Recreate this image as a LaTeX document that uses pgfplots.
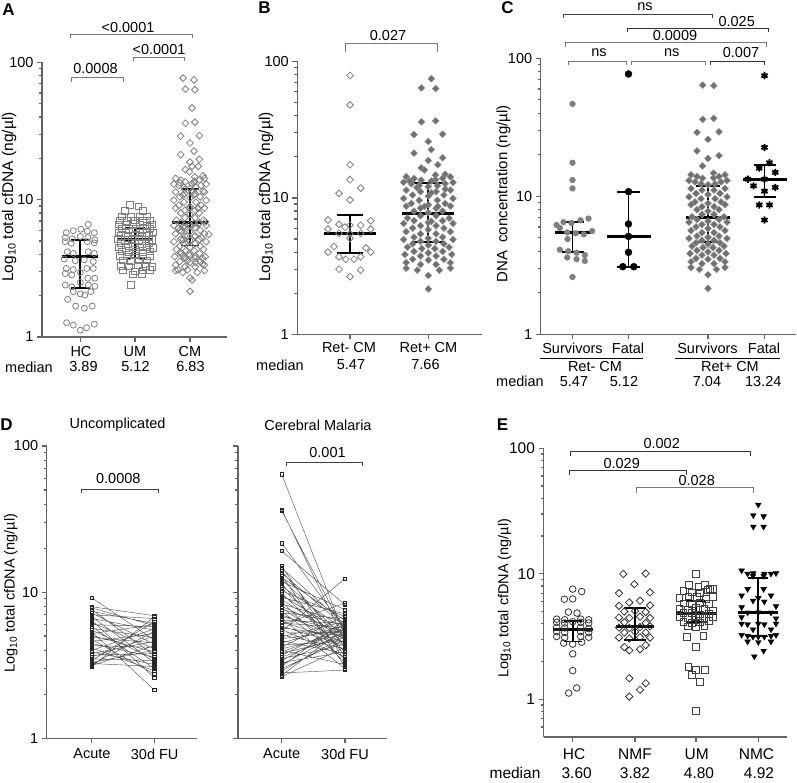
\documentclass[border=0pt]{standalone}
\usepackage{fontspec}
\setmainfont{Liberation Sans}
\usepackage{pgfplots}
\usepackage{pgfplotstable}
\pgfplotsset{compat=1.18}
\definecolor{axgray}{RGB}{100,100,100}
\definecolor{mk}{RGB}{128,128,128}
\definecolor{fillg}{RGB}{112,112,112}
\definecolor{brg}{RGB}{120,120,120}
\newcommand\fs{\fontsize{14.5}{16}\selectfont}
\newcommand\fse{\fontsize{15.5}{17}\selectfont}
\newcommand\Tx[3]{\node[font=\fs,inner sep=0pt] at (#1pt,{782pt-#2pt}) {#3};}
\newcommand\Te[3]{\node[font=\fse,inner sep=0pt] at (#1pt,{782pt-#2pt}) {#3};}
\newcommand\Brk[5][black]{\draw[#1,line width=0.9pt] (#2pt,{782pt-#5pt}) -- (#2pt,{782pt-#4pt}) -- (#3pt,{782pt-#4pt}) -- (#3pt,{782pt-#5pt});}
\newcommand\summ[6]{%
 \addplot[black,line width=1.8pt] table[row sep=\\,x expr=\thisrow{x}+#1,y=y]{x y\\ 0 #3\\ 0 #4\\};
 \addplot[black,line width=1.8pt] table[row sep=\\,x expr=\thisrow{x}+#1,y=y]{x y\\ -#6 #3\\ #6 #3\\};
 \addplot[black,line width=1.8pt] table[row sep=\\,x expr=\thisrow{x}+#1,y=y]{x y\\ -#6 #4\\ #6 #4\\};
 \addplot[black,line width=3pt] table[row sep=\\,x expr=\thisrow{x}+#1,y=y]{x y\\ -#5 #2\\ #5 #2\\};
}
% ---------- data ----------
\pgfplotstableread[row sep=\\]{dx v\\
8 6.62\\ -14 5.75\\ -7 5.95\\ 0.5 6.1\\ 7 5.9\\ 14 5.75\\ -15 5.3\\ -8 5.2\\ 0 5.4\\ 7.5 5.3\\ 14.5 5.1\\
-15 4.95\\ -9 4.81\\ 7 4.95\\ 14 4.85\\ -13 4.18\\ -7 4.06\\ 8 4.18\\ 14 4.06\\ -16 3.7\\ -5 3.6\\ 4 3.65\\ 13 3.55\\
-14 3.16\\ -7 3.1\\ 6.5 3.16\\ 13 3.16\\ -15 2.9\\ -8.5 2.83\\ 0 2.95\\ 7.5 2.68\\ 14.5 2.68\\ -15 2.39\\ -8.5 2.32\\
0 2.5\\ 8 2.39\\ 14.5 2.34\\ -7 2.14\\ 0 2.06\\ 4.5 2.02\\ 10.5 2.14\\ -12.7 1.88\\ -4.7 1.68\\ 4 1.62\\ 12 1.68\\
-13.7 1.27\\ -7 1.22\\ 0 1.12\\ 6.3 1.17\\ 14 1.24\\}\tAHC
\pgfplotstableread[row sep=\\]{dx v\\
-5 9.15\\ 3.3 8.9\\ -10 8.3\\ 8 8.3\\ -13 7.6\\ -4 7.5\\ 5 7.6\\ 12 7.55\\ -15 7.1\\ -8 7.0\\ 0 7.1\\ 8 7.0\\ 15 7.1\\
-16 6.6\\ -9 6.55\\ -2 6.65\\ 5 6.6\\ 12 6.5\\ 17 6.6\\ -13 6.2\\ -6 6.15\\ 1 6.2\\ 8 6.15\\ 15 6.2\\
-16 5.8\\ -9 5.75\\ -2 5.85\\ 5 5.8\\ 12 5.75\\ 18 5.8\\ -14 5.45\\ -7 5.4\\ 0 5.45\\ 7 5.4\\ 14 5.45\\
-17 5.12\\ -10 5.1\\ -3 5.15\\ 4 5.1\\ 11 5.12\\ 17 5.1\\ -14 4.8\\ -7 4.75\\ 0 4.8\\ 7 4.78\\ 14 4.8\\
-16 4.5\\ -9 4.45\\ -2 4.52\\ 5 4.48\\ 12 4.5\\ 18 4.45\\ -13 4.2\\ -6 4.15\\ 1 4.2\\ 8 4.15\\ 15 4.2\\
-15 3.9\\ -8 3.88\\ 0 3.92\\ 8 3.88\\ 15 3.9\\ -12 3.6\\ -4 3.58\\ 4 3.62\\ 12 3.6\\
-14 3.3\\ -6 3.28\\ 3 3.32\\ 11 3.3\\ 17 3.25\\ -12 3.05\\ 0 3.0\\ 8 3.05\\ 15 3.08\\ -2 2.85\\ 7 2.88\\ -4 2.39\\}\tAUM
\pgfplotstableread[row sep=\\]{dx v\\
-5.3 64\\ 5.7 63.3\\ 5.7 36.7\\ -5.3 36.1\\ -11 29.1\\ 11 29.3\\ 0 25.9\\ -11 21.3\\ 11 19.7\\ 0 18.8\\ -5.5 16.6\\ 5.5 14.7\\
-17 14.3\\ -11 13.9\\ 11 13.9\\ 17 14.3\\ -5.5 13.5\\ 5.5 13.6\\ -19 13.0\\ -13 12.7\\ 13 12.7\\ 19 13.0\\ -7 12.3\\ 0 12.1\\ 7 12.3\\
-17 11.4\\ -6 11.1\\ 6 11.1\\ 17 11.4\\ -12 10.5\\ 0 10.3\\ 12 10.5\\ -19 9.9\\ -7 9.6\\ 7 9.6\\ 19 9.9\\
-13 9.1\\ 0 8.9\\ 13 9.1\\ -17 8.7\\ -6 8.4\\ 6 8.4\\ 17 8.7\\ -11 8.0\\ 0 7.8\\ 11 8.0\\ -6 7.4\\ 6 7.4\\ -16 7.1\\ 16 7.1\\
-11 6.8\\ 0 6.6\\ 11 6.8\\ -19 6.5\\ -6 6.25\\ 6 6.25\\ 19 6.5\\ -12 6.0\\ 0 5.85\\ 12 6.0\\
-17 5.65\\ -6 5.45\\ 6 5.45\\ 17 5.65\\ -11 5.15\\ 0 5.05\\ 11 5.15\\ -19 4.95\\ -6 4.8\\ 6 4.8\\ 19 4.95\\
-12 4.6\\ 0 4.5\\ 12 4.6\\ -16 4.35\\ -5 4.25\\ 5 4.25\\ 16 4.35\\ -11 4.05\\ 0 3.95\\ 11 4.05\\
-18 3.85\\ -6 3.75\\ 6 3.75\\ 18 3.85\\ -12 3.55\\ 0 3.5\\ 12 3.55\\ -17 3.35\\ -6 3.25\\ 6 3.25\\ 17 3.35\\
-17 3.05\\ 17 3.05\\ -8.5 2.95\\ 8.5 2.95\\ 0 2.7\\ 0 2.15\\}\tRPS
\pgfplotstableread[row sep=\\]{dx v\\
0 74.8\\ 0 22.6\\ 5 17.5\\ -5.3 16\\ 10.7 14.9\\ -16.7 13.3\\ 0 13.3\\ -11 11.9\\ 10.7 11.6\\ 0 10.9\\ -5.3 8.65\\ 5 8.65\\ 0 6.73\\}\tRPF
\pgfplotstableread[row sep=\\]{dx v\\
0 46.7\\ 0 17.5\\ 0 13.1\\ 0 11.4\\ 16 6.9\\ 8 6.7\\ -9 6.5\\ -1 6.4\\ -16 6.2\\ -12.7 5.9\\ 19.7 5.6\\ -5.3 5.47\\
3.3 5.4\\ 11.3 5.3\\ -5 4.9\\ -12.7 4.1\\ -4.3 4.0\\ 4 3.9\\ 12.3 3.75\\ -5.3 3.6\\ 4 3.5\\ 12.3 3.4\\ 0 2.6\\}\tRMS
\pgfplotstableread[row sep=\\]{dx v\\
0 77\\ 0 10.8\\ 0 6.3\\ 0 5.12\\ 0 3.93\\ -5.7 3.09\\ 5.3 3.09\\}\tRMF
\pgfplotstableread[row sep=\\]{dx v\\
0 78.9\\ 0 48.1\\ 0 17.5\\ 0 13.6\\ 10.7 11.8\\ -11 10.8\\ 0 9.67\\ -22 6.9\\ 20.7 6.8\\ -11 6.4\\ 0 6.3\\ 10.7 6.3\\
-5 6.1\\ -22 5.9\\ 20.7 5.9\\ -11 5.5\\ 0 5.45\\ 10.7 5.5\\ 0 5.05\\ -16 4.4\\ 16 4.3\\ -22 4.0\\ 20.7 4.0\\
-11 3.7\\ 10.7 3.7\\ -4.3 3.55\\ 4 3.55\\ -11 3.0\\ 10.7 2.96\\ 0 2.65\\}\tBRM
\pgfplotstableread[row sep=\\]{dx v\\
0 7.55\\ 9 7.22\\ -8.3 6.27\\ 0 6.3\\ -4.3 4.95\\ 4.3 4.86\\ -16 4.35\\ -8 4.3\\ 8 4.35\\ 16 4.3\\
-16 4.1\\ -8 4.05\\ 0 4.15\\ 8 4.1\\ 16 4.05\\ -16 3.75\\ -8 3.7\\ 8 3.75\\ 16 3.65\\ -16 3.45\\ -8 3.4\\ 8 3.45\\ 16 3.4\\
-16 3.16\\ -8 3.1\\ 8 3.16\\ 16 3.12\\ -9 2.8\\ 0 2.75\\ 9 2.85\\ 0 2.3\\ 0 1.69\\ -4 1.12\\ 4 1.23\\}\tEHC
\pgfplotstableread[row sep=\\]{dx v\\
-11.7 9.95\\ 10.7 10.05\\ -0.7 8.26\\ -16 7.0\\ 15 7.1\\ -5.7 5.9\\ 5 6.1\\ -16 5.55\\ 15 5.6\\ -10.7 5.0\\ 0 5.05\\ 10.7 4.95\\
-16 4.48\\ -5.7 4.45\\ 5 4.55\\ 15 4.45\\ -10.7 4.1\\ 10.7 4.05\\ -16 3.73\\ -5.7 3.7\\ 5 3.75\\ 15 3.8\\
-10.7 3.4\\ 0 3.45\\ 10.7 3.4\\ -16 3.1\\ -5.7 3.05\\ 5 3.12\\ 15 3.1\\ -10.7 2.6\\ 10.7 2.7\\ -5.7 2.45\\ 5 2.5\\
-5.7 1.47\\ 10.7 1.34\\ 5 1.19\\ -5.7 1.05\\}\tENMF
\pgfplotstableread[row sep=\\]{dx v\\
0 9.95\\ -7.3 8.2\\ 2.3 7.9\\ 9 8.1\\ 14 7.6\\ -12.7 7.3\\ -4.3 7.1\\ 4 7.0\\ 12 7.4\\ 17 7.6\\
-16.7 6.4\\ -7.7 6.6\\ 1 6.5\\ 9.5 6.3\\ 17 6.5\\ -12.7 5.8\\ -4.3 5.7\\ 4 5.9\\ 12.7 5.75\\
-16.7 5.3\\ -8.3 5.2\\ 0 5.35\\ 8.3 5.25\\ 16.7 5.1\\ -12.7 4.85\\ -4.3 4.9\\ 4 4.75\\ 12.7 4.8\\
-16.7 4.5\\ -8.3 4.45\\ 0 4.55\\ 8.3 4.45\\ 16.7 4.5\\ -12.7 4.15\\ -4.3 4.05\\ 4 4.1\\ 12.7 4.2\\
-8.3 3.8\\ 0 3.75\\ 8.3 3.85\\ -9 3.15\\ 7.3 3.2\\ 0 2.63\\ -7.7 1.8\\ 0 1.71\\ 9 1.71\\ -4.3 1.56\\ 4 1.38\\ 0 0.81\\}\tEUM
\pgfplotstableread[row sep=\\]{dx v\\
0 35.5\\ -5 29.2\\ 5.3 28.7\\ -5 23.7\\ 5.3 23.7\\ -16.7 10.6\\ -10.7 10.0\\ -5 10.1\\ 6 10.0\\ 12.7 10.0\\ 17.7 10.1\\
-5.3 9.6\\ 5.3 9.6\\ -10.7 7.55\\ 5.3 7.55\\ -16.7 6.7\\ 12.7 6.7\\ 0 6.4\\ -5.3 6.1\\ 6 6.0\\ -16.7 5.4\\ 17.7 5.5\\
-10.7 4.9\\ 12.7 4.9\\ 0 4.92\\ -16.7 4.5\\ 17.7 4.4\\ -16.7 4.0\\ -10.7 3.95\\ 0 4.0\\ 6 3.95\\ 17.7 4.0\\
-5.3 3.6\\ 12.7 3.6\\ -16.7 3.25\\ -10.7 3.2\\ -5.3 3.15\\ 0 3.15\\ 6 3.15\\ 12.7 3.2\\ 17.7 3.25\\
-10.7 2.88\\ 0 2.85\\ 12.7 2.88\\ 5.3 2.43\\ -4 2.19\\}\tENMC

\begin{document}
\begin{tikzpicture}
\path[use as bounding box] (0,0) rectangle (797pt,782pt);
% ================= A =================
\begin{axis}[scale only axis, anchor=south west, axis lines=left,
  axis line style={-,draw=axgray,line width=1.3pt}, tick style={draw=axgray,line width=1.3pt},
  tick align=outside, major tick length=5pt, minor tick length=3pt,
  ymode=log, ymin=1, ymax=100, xmin=0, ytick={1,10,100}, yticklabels={1,10,100},
  minor ytick={2,3,4,5,6,7,8,9,20,30,40,50,60,70,80,90},
  xticklabels={}, xticklabel style={text opacity=0}, yticklabel style={font=\fs}, enlargelimits=false, clip=false, unbounded coords=jump,
  at={(42pt,445pt)}, width=185pt, height=274.5pt, xmax=185, xtick={38.3,93,148}]
\addplot[only marks, mark=o, mark size=3, color=mk, mark options={line width=0.8pt}] table[x expr=\thisrow{dx}+38.3,y=v]{\tAHC};
\addplot[only marks, mark=square, mark size=3.2, color=mk, mark options={line width=0.8pt}] table[x expr=\thisrow{dx}+93,y=v]{\tAUM};
\addplot[only marks, mark=square, mark size=2.4, color=mk, mark options={rotate=45,line width=0.8pt}] table[x expr=0.85*\thisrow{dx}+148,y=v]{\tRPS};
\addplot[only marks, mark=square, mark size=2.4, color=mk, mark options={rotate=45,line width=0.8pt}] table[x expr=0.85*\thisrow{dx}+152,y=v]{\tRPF};
\addplot[only marks, mark=square, mark size=2.4, color=mk, mark options={rotate=45,line width=0.8pt}] table[x expr=0.85*\thisrow{dx}+150,y=v]{\tRMS};
\addplot[only marks, mark=square, mark size=2.4, color=mk, mark options={rotate=45,line width=0.8pt}] table[x expr=0.85*\thisrow{dx}+141,y=v]{\tRMF};
\summ{38.3}{3.89}{2.26}{5.09}{18}{9.5}
\summ{93}{5.12}{3.74}{6.25}{18}{9.5}
\summ{148}{6.83}{4.64}{12.0}{18}{9}
\end{axis}
% ================= B =================
\begin{axis}[scale only axis, anchor=south west, axis lines=left,
  axis line style={-,draw=axgray,line width=1.3pt}, tick style={draw=axgray,line width=1.3pt},
  tick align=outside, major tick length=5pt, minor tick length=3pt,
  ymode=log, ymin=1, ymax=100, xmin=0, ytick={1,10,100}, yticklabels={1,10,100},
  minor ytick={2,3,4,5,6,7,8,9,20,30,40,50,60,70,80,90},
  xticklabels={}, xticklabel style={text opacity=0}, yticklabel style={font=\fs}, enlargelimits=false, clip=false, unbounded coords=jump,
  at={(297.3pt,447.7pt)}, width=184.4pt, height=272.8pt, xmax=184.4, xtick={52.7,131}]
\addplot[only marks, mark=square, mark size=2.4, color=mk, mark options={rotate=45,line width=0.8pt}] table[x expr=\thisrow{dx}+52.7,y=v]{\tBRM};
\addplot[only marks, mark=square*, mark size=2.4, color=fillg, mark options={rotate=45,fill=fillg,draw=fillg!80!white,line width=0.5pt}] table[x expr=1.3*\thisrow{dx}+131,y=v]{\tRPS};
\addplot[only marks, mark=square*, mark size=2.4, color=fillg, mark options={rotate=45,fill=fillg,draw=fillg!80!white,line width=0.5pt}] table[x expr=1.3*\thisrow{dx}+134,y=v]{\tRPF};
\summ{52.7}{5.47}{3.93}{7.5}{26}{13}
\summ{131}{7.66}{4.78}{12.8}{26}{15}
\end{axis}
% ================= C =================
\begin{axis}[scale only axis, anchor=south west, axis lines=left,
  axis line style={-,draw=axgray,line width=1.3pt}, tick style={draw=axgray,line width=1.3pt},
  tick align=outside, major tick length=5pt, minor tick length=3pt,
  ymode=log, ymin=1, ymax=100, xmin=0, ytick={1,10,100}, yticklabels={1,10,100},
  minor ytick={2,3,4,5,6,7,8,9,20,30,40,50,60,70,80,90},
  xticklabels={}, xticklabel style={text opacity=0}, yticklabel style={font=\fs}, enlargelimits=false, clip=false, unbounded coords=jump,
  at={(540.7pt,447.7pt)}, width=255.3pt, height=276pt, xmax=255.3, xtick={31.8,87.8,167.3,223.8}]
\addplot[only marks, mark=*, mark size=2.9, color=mk, mark options={fill=mk,draw=mk}] table[x expr=\thisrow{dx}+31.8,y=v]{\tRMS};
\addplot[only marks, mark=*, mark size=3.5, color=black, mark options={fill=black}] table[x expr=\thisrow{dx}+87.8,y=v]{\tRMF};
\addplot[only marks, mark=square*, mark size=2.4, color=fillg, mark options={rotate=45,fill=fillg,draw=fillg!80!white,line width=0.5pt}] table[x expr=\thisrow{dx}+167.3,y=v]{\tRPS};
\addplot[only marks, mark=asterisk, mark size=3.6, color=black, mark options={line width=1.9pt}] table[x expr=\thisrow{dx}+223.8,y=v]{\tRPF};
\addplot[only marks, mark=*, mark size=2, color=black, mark options={fill=black}] table[x expr=\thisrow{dx}+223.8,y=v]{\tRPF};
\summ{31.8}{5.47}{3.97}{6.55}{18}{11}
\summ{87.8}{5.12}{3.09}{10.8}{22}{11.3}
\summ{167.3}{7.04}{4.64}{11.9}{22}{11.7}
\summ{223.8}{13.24}{9.84}{16.9}{22}{11}
\end{axis}
% ================= D left =================
\begin{axis}[scale only axis, anchor=south west, axis lines=left,
  axis line style={-,draw=axgray,line width=1.3pt}, tick style={draw=axgray,line width=1.3pt},
  tick align=outside, major tick length=5pt, minor tick length=3pt,
  ymode=log, ymin=1, ymax=100, xmin=0, ytick={1,10,100}, yticklabels={1,10,100},
  minor ytick={2,3,4,5,6,7,8,9,20,30,40,50,60,70,80,90},
  xticklabels={}, xticklabel style={text opacity=0}, yticklabel style={font=\fs}, enlargelimits=false, clip=false, unbounded coords=jump,
  at={(46.7pt,43.7pt)}, width=150pt, height=292.3pt, xmax=150, xtick={45,107.6}]
\addplot[draw=black!65, line width=0.45pt, mark=square, mark size=1.6, mark options={solid,draw=black!85,line width=0.6pt}] coordinates {
(45,9.16)(107.6,4.7)(45,nan)(45,7.95)(107.6,6.9)(45,nan)(45,7.8)(107.6,5.9)(45,nan)(45,7.6)(107.6,3.7)(45,nan)
(45,7.4)(107.6,6.1)(45,nan)(45,7.2)(107.6,4.4)(45,nan)(45,7.0)(107.6,6.6)(45,nan)(45,6.8)(107.6,3.3)(45,nan)
(45,6.6)(107.6,5.5)(45,nan)(45,6.4)(107.6,2.6)(45,nan)(45,6.2)(107.6,4.1)(45,nan)(45,6.0)(107.6,5.8)(45,nan)
(45,5.8)(107.6,3.0)(45,nan)(45,5.65)(107.6,4.9)(45,nan)(45,5.5)(107.6,3.5)(45,nan)(45,5.35)(107.6,2.14)(45,nan)
(45,5.2)(107.6,6.0)(45,nan)(45,5.05)(107.6,3.9)(45,nan)(45,4.9)(107.6,4.5)(45,nan)(45,4.75)(107.6,2.75)(45,nan)
(45,4.6)(107.6,5.2)(45,nan)(45,4.45)(107.6,3.6)(45,nan)(45,4.3)(107.6,4.2)(45,nan)(45,4.15)(107.6,2.9)(45,nan)
(45,4.0)(107.6,5.6)(45,nan)(45,3.9)(107.6,3.2)(45,nan)(45,3.8)(107.6,4.6)(45,nan)(45,3.7)(107.6,3.8)(45,nan)
(45,3.6)(107.6,5.0)(45,nan)(45,3.5)(107.6,3.4)(45,nan)(45,3.4)(107.6,6.3)(45,nan)(45,3.3)(107.6,4.0)(45,nan)
(45,3.25)(107.6,3.1)(45,nan)(45,3.2)(107.6,5.4)(45,nan)(45,3.15)(107.6,4.3)(45,nan)(45,3.1)(107.6,6.8)};
\end{axis}
% ================= D right =================
\begin{axis}[scale only axis, anchor=south west, axis lines=left,
  axis line style={-,draw=axgray,line width=1.3pt}, tick style={draw=axgray,line width=1.3pt},
  tick align=outside, major tick length=5pt, minor tick length=3pt,
  ymode=log, ymin=1, ymax=100, xmin=0, ytick={1,10,100}, yticklabels={},
  minor ytick={2,3,4,5,6,7,8,9,20,30,40,50,60,70,80,90},
  xticklabels={}, xticklabel style={text opacity=0}, enlargelimits=false, clip=false, unbounded coords=jump,
  at={(238pt,43.7pt)}, width=148.7pt, height=292.3pt, xmax=148.7, xtick={43.7,107}]
\addplot[draw=black!65, line width=0.45pt, mark=square, mark size=1.6, mark options={solid,draw=black!85,line width=0.6pt}] coordinates {
(43.7,64)(107,5.0)(43.7,nan)(43.7,36.7)(107,4.6)(43.7,nan)(43.7,36)(107,5.3)(43.7,nan)(43.7,21.6)(107,5.6)(43.7,nan)
(43.7,19.1)(107,8.2)(43.7,nan)(43.7,15.1)(107,3.4)(43.7,nan)(43.7,14.6)(107,6.0)(43.7,nan)(43.7,14.0)(107,4.2)(43.7,nan)
(43.7,13.5)(107,5.8)(43.7,nan)(43.7,13.0)(107,3.1)(43.7,nan)(43.7,12.6)(107,6.4)(43.7,nan)(43.7,12.2)(107,4.9)(43.7,nan)
(43.7,11.8)(107,7.6)(43.7,nan)(43.7,11.4)(107,3.7)(43.7,nan)(43.7,11.0)(107,5.5)(43.7,nan)(43.7,10.6)(107,4.4)(43.7,nan)
(43.7,10.2)(107,6.8)(43.7,nan)(43.7,9.8)(107,3.9)(43.7,nan)(43.7,9.5)(107,5.2)(43.7,nan)(43.7,9.2)(107,7.1)(43.7,nan)
(43.7,8.9)(107,4.7)(43.7,nan)(43.7,8.6)(107,3.3)(43.7,nan)(43.7,8.3)(107,6.2)(43.7,nan)(43.7,8.0)(107,5.1)(43.7,nan)
(43.7,7.8)(107,4.0)(43.7,nan)(43.7,7.6)(107,5.9)(43.7,nan)(43.7,7.4)(107,3.5)(43.7,nan)(43.7,7.2)(107,6.6)(43.7,nan)
(43.7,7.0)(107,4.8)(43.7,nan)(43.7,6.8)(107,5.4)(43.7,nan)(43.7,6.6)(107,3.0)(43.7,nan)(43.7,6.45)(107,6.1)(43.7,nan)
(43.7,6.3)(107,4.5)(43.7,nan)(43.7,6.15)(107,5.7)(43.7,nan)(43.7,6.0)(107,8.4)(43.7,nan)(43.7,5.85)(107,4.3)(43.7,nan)
(43.7,5.7)(107,5.0)(43.7,nan)(43.7,5.55)(107,3.6)(43.7,nan)(43.7,5.4)(107,12.4)(43.7,nan)(43.7,5.25)(107,5.3)(43.7,nan)
(43.7,5.1)(107,4.1)(43.7,nan)(43.7,4.95)(107,6.3)(43.7,nan)(43.7,4.8)(107,5.5)(43.7,nan)(43.7,4.65)(107,3.8)(43.7,nan)
(43.7,4.5)(107,5.9)(43.7,nan)(43.7,4.35)(107,4.6)(43.7,nan)(43.7,4.2)(107,6.9)(43.7,nan)(43.7,4.1)(107,5.2)(43.7,nan)
(43.7,4.0)(107,3.2)(43.7,nan)(43.7,3.9)(107,5.6)(43.7,nan)(43.7,3.8)(107,4.9)(43.7,nan)(43.7,3.7)(107,6.0)(43.7,nan)
(43.7,3.6)(107,5.1)(43.7,nan)(43.7,3.5)(107,4.4)(43.7,nan)(43.7,3.4)(107,5.8)(43.7,nan)(43.7,3.3)(107,3.9)(43.7,nan)
(43.7,3.2)(107,5.4)(43.7,nan)(43.7,3.1)(107,6.5)(43.7,nan)(43.7,3.0)(107,4.7)(43.7,nan)(43.7,2.9)(107,5.0)(43.7,nan)
(43.7,2.8)(107,2.93)(43.7,nan)(43.7,2.7)(107,5.7)(43.7,nan)(43.7,2.64)(107,4.2)};
\end{axis}
% ================= E =================
\begin{axis}[scale only axis, anchor=south west, axis lines=left,
  axis line style={-,draw=axgray,line width=1.3pt}, tick style={draw=axgray,line width=1.3pt},
  tick align=outside, major tick length=5pt, minor tick length=3pt,
  ymode=log, ymin=0.5, ymax=100, xmin=0, ytick={1,10,100}, yticklabels={1,10,100},
  minor ytick={0.6,0.7,0.8,0.9,2,3,4,5,6,7,8,9,20,30,40,50,60,70,80,90},
  xticklabels={}, xticklabel style={text opacity=0}, yticklabel style={font=\fse}, enlargelimits=false, clip=false, unbounded coords=jump,
  at={(543.5pt,45pt)}, width=243.2pt, height=288.7pt, xmax=243.2, xtick={29.2,91.5,152.5,214.8}]
\addplot[only marks, mark=o, mark size=3.3, color=black!80, mark options={line width=0.8pt}] table[x expr=\thisrow{dx}+29.2,y=v]{\tEHC};
\addplot[only marks, mark=square, mark size=2.6, color=black!80, mark options={rotate=45,line width=0.8pt}] table[x expr=\thisrow{dx}+91.5,y=v]{\tENMF};
\addplot[only marks, mark=square, mark size=3.4, color=black!75, mark options={line width=0.8pt}] table[x expr=\thisrow{dx}+152.5,y=v]{\tEUM};
\addplot[only marks, mark=triangle*, mark size=3.3, color=black, mark options={rotate=180,fill=black}] table[x expr=\thisrow{dx}+214.8,y=v]{\tENMC};
\summ{29.2}{3.60}{2.88}{4.22}{20}{9}
\summ{91.5}{3.82}{2.97}{5.33}{19}{11}
\summ{152.5}{4.80}{4.1}{6.1}{20}{9}
\summ{214.8}{4.92}{3.16}{9.25}{20}{10}
\end{axis}
% ================= annotations =================
\tikzset{pl/.style={font=\fontsize{17}{19}\selectfont\bfseries,inner sep=0pt}}
\node[pl] at (8.5pt,{782pt-9.5pt}) {A};
\node[pl] at (264.5pt,{782pt-8pt}) {B};
\node[pl] at (507.5pt,{782pt-8pt}) {C};
\node[pl] at (6.5pt,{782pt-425pt}) {D};
\node[pl] at (502.5pt,{782pt-425pt}) {E};
\node[font=\fontsize{15.5}{17}\selectfont,rotate=90,inner sep=0pt] at (9pt,{782pt-197pt}) {Log\textsubscript{10} total cfDNA (ng/µl)};
\node[font=\fontsize{15.5}{17}\selectfont,rotate=90,inner sep=0pt] at (266pt,{782pt-197pt}) {Log\textsubscript{10} total cfDNA (ng/µl)};
\node[font=\fontsize{15}{17}\selectfont,rotate=90,inner sep=0pt] at (503.5pt,{782pt-194pt}) {DNA\ \ concentration (ng/µl)};
\node[font=\fs,rotate=90,inner sep=0pt] at (11pt,{782pt-593pt}) {Log\textsubscript{10} total cfDNA (ng/µl)};
\node[font=\fs,rotate=90,inner sep=0pt] at (504.5pt,{782pt-598pt}) {Log\textsubscript{10} total cfDNA (ng/µl)};
\Tx{81}{352}{HC}\Tx{135}{352}{UM}\Tx{190}{352}{CM}
\Tx{29}{367}{median}\Tx{83.5}{367}{3.89}\Tx{135.5}{367}{5.12}\Tx{190.5}{367}{6.83}
\Brk[brg]{70.7}{192.3}{34}{37.7}\Tx{128}{28}{<0.0001}
\Brk[brg]{133.3}{184.3}{57.3}{61}\Tx{159}{50}{<0.0001}
\Brk[brg]{71.7}{123.3}{77.3}{81.7}\Tx{95.5}{69}{0.0008}
\Tx{349}{348}{Ret- CM}\Tx{428.5}{348}{Ret+ CM}
\Tx{280}{365}{median}\Tx{351}{365}{5.47}\Tx{425.5}{365}{7.66}
\Brk[brg]{345}{437.7}{43.3}{51.7}\Tx{388}{36}{0.027}
\Tx{572.5}{348}{Survivors}\Tx{628}{348}{Fatal}\Tx{707.5}{348}{Survivors}\Tx{764}{348}{Fatal}
\draw[black,line width=0.9pt] (540pt,{782pt-358.3pt}) -- (643.3pt,{782pt-358.3pt});
\draw[black,line width=0.9pt] (675pt,{782pt-358.3pt}) -- (780pt,{782pt-358.3pt});
\Tx{595}{366.7}{Ret- CM}\Tx{730}{366.7}{Ret+ CM}
\Tx{520}{381.7}{median}\Tx{574}{381.7}{5.47}\Tx{624}{381.7}{5.12}\Tx{707}{381.7}{7.04}\Tx{763.3}{381.7}{13.24}
\Brk[black!75]{563.3}{712.3}{14}{18}\Tx{645}{6.5}{ns}
\Brk[black!80]{627.3}{768.3}{28.3}{32}\Tx{736.7}{21.5}{0.025}
\Brk[brg]{565}{766.7}{42.7}{46.7}\Tx{675}{36}{0.0009}
\Brk[brg]{568.3}{626.7}{61}{65}\Tx{599}{52.5}{ns}
\Brk[brg]{631}{705}{61}{65}\Tx{671.7}{52.5}{ns}
\Brk[black!80]{710}{764}{61}{65}\Tx{741}{52.5}{0.007}
\Tx{117.5}{425}{Uncomplicated}\Tx{318}{425}{Cerebral Malaria}
\Tx{92}{754}{Acute}\Tx{154.7}{754}{30d FU}\Tx{281.7}{754}{Acute}\Tx{345}{754}{30d FU}
\Brk[black!75]{81.7}{158.3}{489.3}{492.7}\Tx{118.3}{479}{0.0008}
\Brk[black!75]{286.7}{362.7}{462.7}{466}\Tx{327.5}{452.5}{0.001}
\Te{574}{754}{HC}\Te{635}{754}{NMF}\Te{696.7}{754}{UM}\Te{756.5}{754}{NMC}
\Te{515}{773.3}{median}\Te{576.7}{773.3}{3.60}\Te{635}{773.3}{3.82}\Te{699}{773.3}{4.80}\Te{759}{773.3}{4.92}
\Brk[black!80]{570}{750}{451}{456}\Tx{661.7}{444}{0.002}
\Brk[black!80]{569.3}{686.7}{470.7}{475}\Tx{621.7}{464}{0.029}
\Brk[brg]{636}{753.3}{487.7}{492.7}\Tx{696.7}{481}{0.028}
\end{tikzpicture}
\end{document}
